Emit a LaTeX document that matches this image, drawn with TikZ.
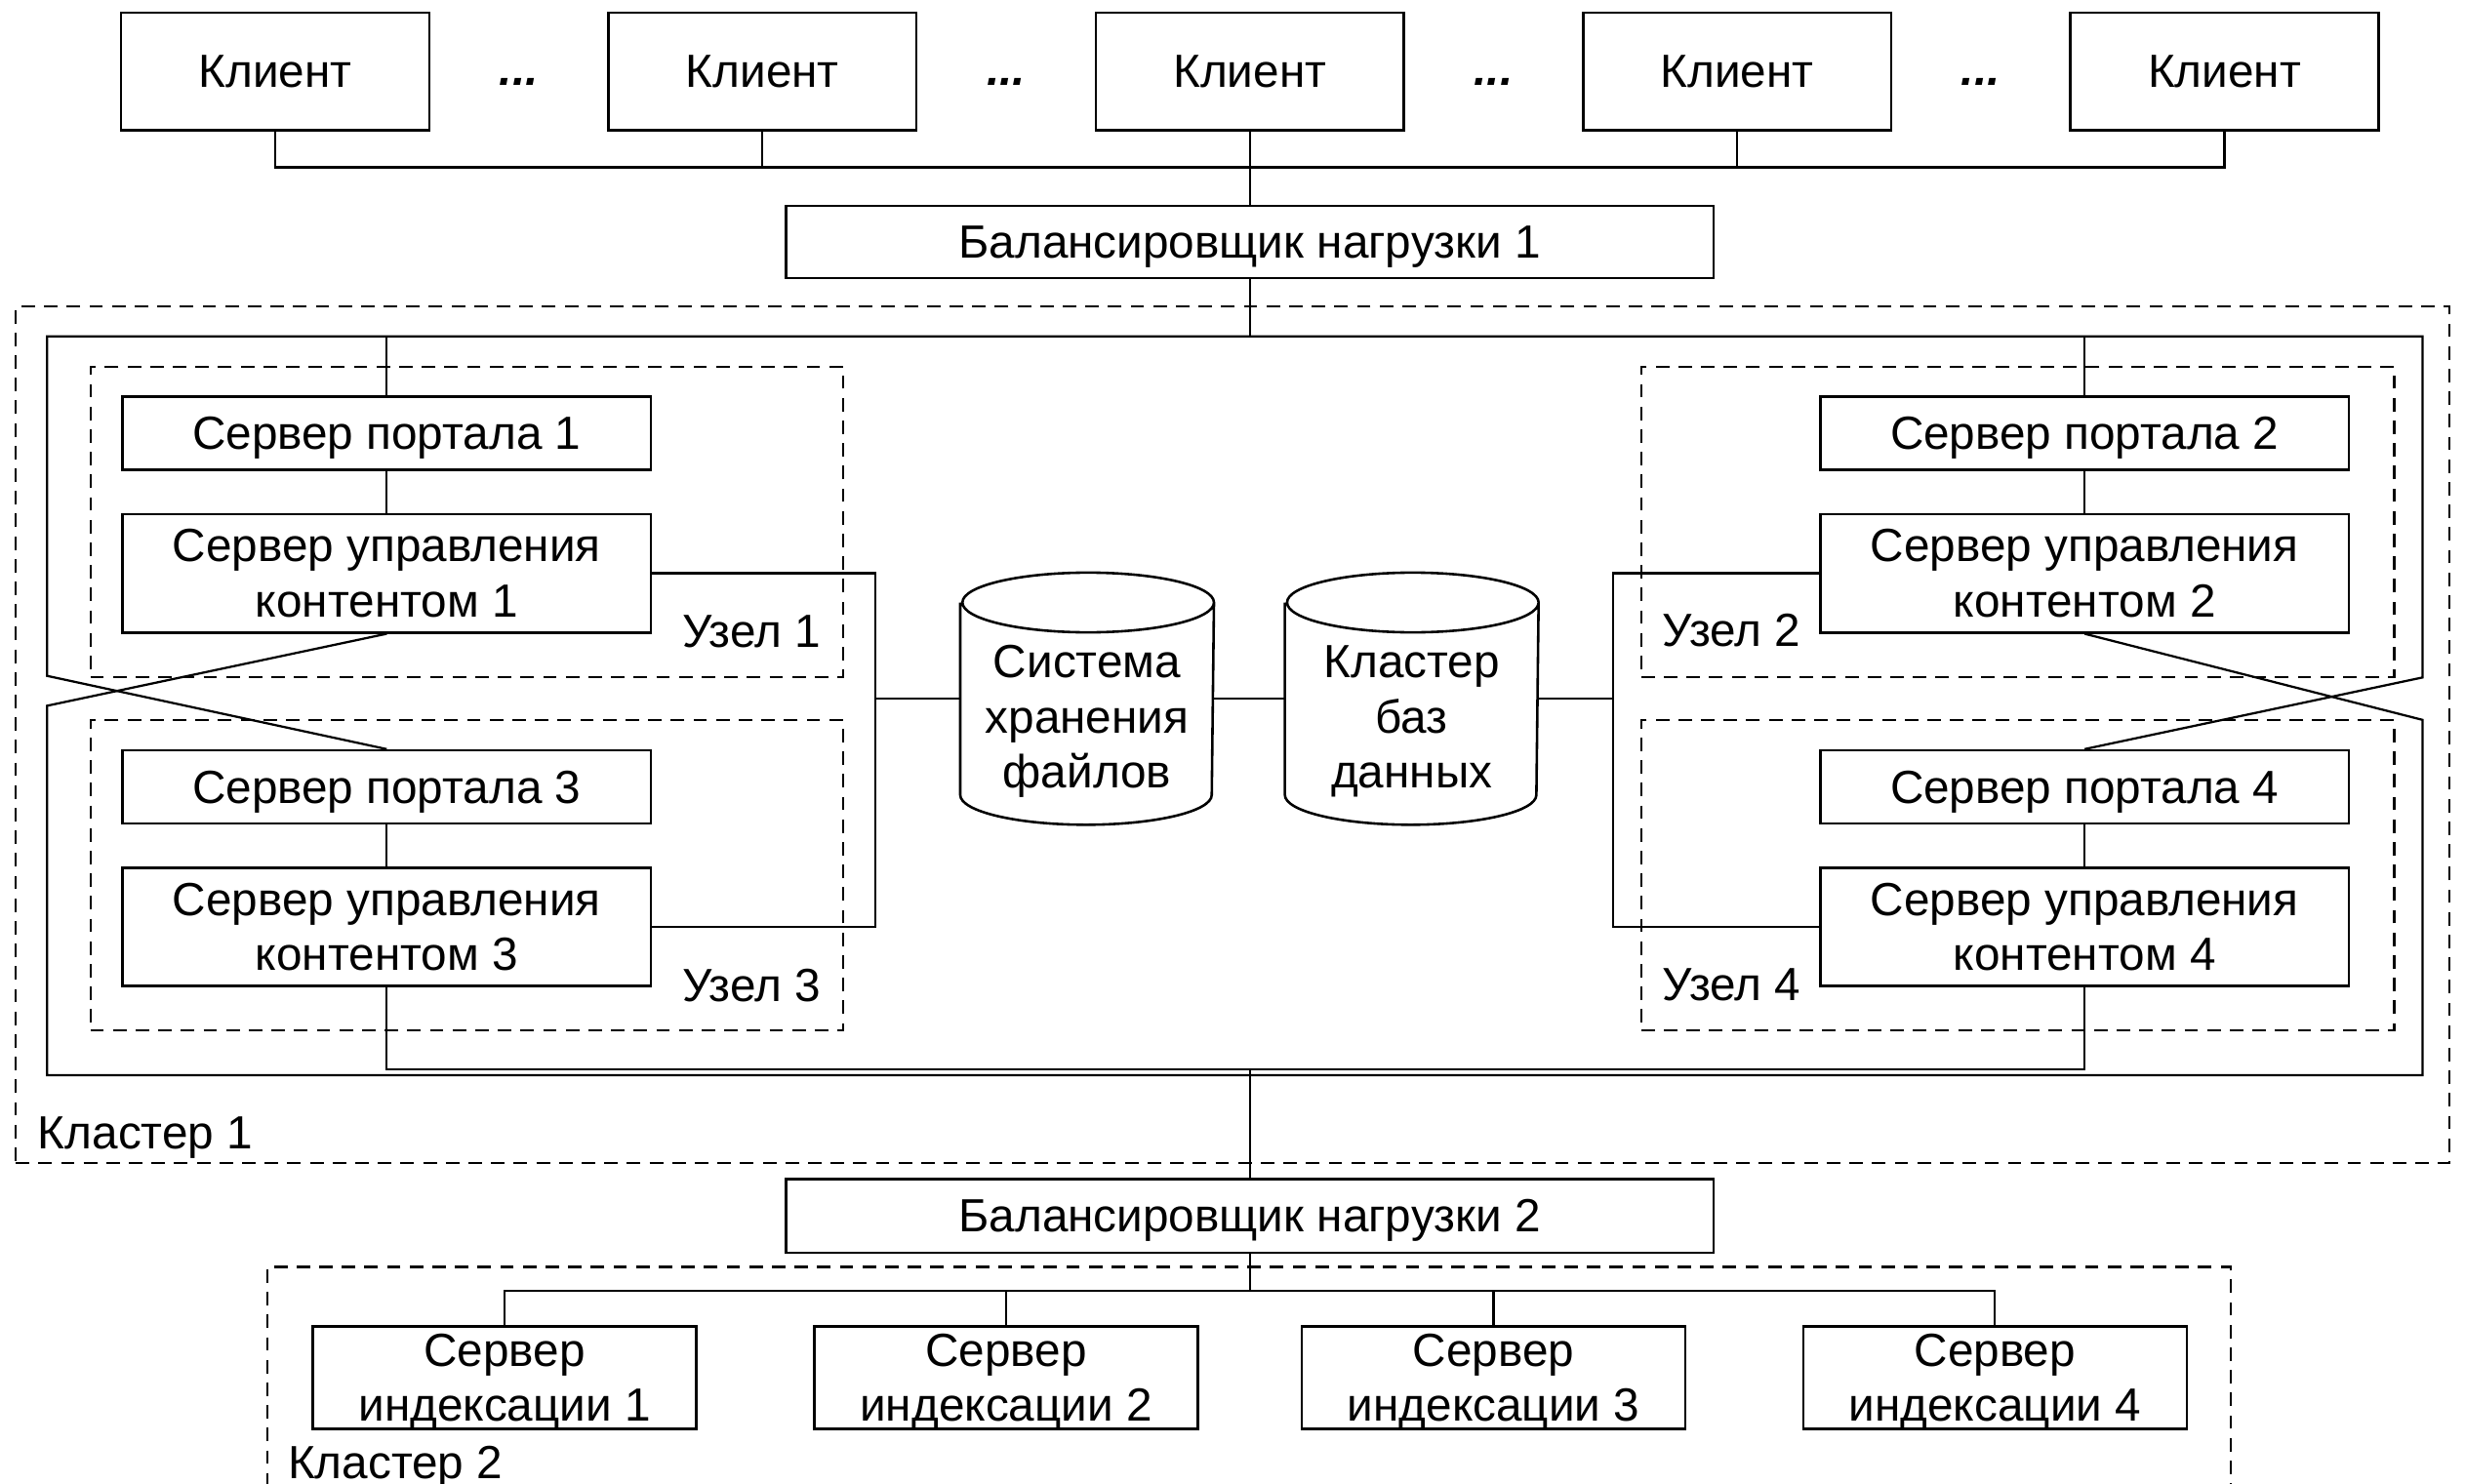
\documentclass[tikz,border=0pt]{standalone}
\usepackage{fontspec}
\setmainfont{Liberation Sans}
\usetikzlibrary{calc}

\begin{document}
\begin{tikzpicture}[x=0.5pt, y=-0.5pt, line width=0.7pt,
    font=\fontsize{14.8}{17.5}\selectfont,
    box/.style={draw, line width=0.8pt, inner sep=0pt, align=center, text depth=0pt},
    srv/.style={box, minimum width=168pt},
    grp/.style={draw, dash pattern=on 4.3pt off 2.9pt, inner sep=0pt},
    store/.style={minimum width=80pt, minimum height=79.5pt, inner sep=0pt},
    tag/.style={inner sep=0pt}]
    \useasboundingbox (0,0) rectangle (1568,944);

    \foreach \i/\x in {1/175,2/485,3/795,4/1105,5/1415}
        \node[box, minimum width=98pt, minimum height=37.5pt] (k\i) at (\x,45.5) {Клиент};
    \foreach \i/\x in {1/330,2/640,3/950,4/1260}
        \node[anchor=base] (d\i) at (\x,54) {\bfseries\itshape ...};

    \node[box, minimum width=295pt, minimum height=23pt] (lb1) at (795,154) {Балансировщик нагрузки 1};
    \coordinate (kb) at (795,106.5);
    \draw (k1.south) |- (kb) -| (k5.south);
    \foreach \i in {2,3,4} \draw (k\i.south) -- (k\i.south |- kb);
    \draw (kb) -- (lb1.north);

    \node[grp, minimum width=774pt, minimum height=272.5pt] (cl1) at (784,467.5) {};
    \node[tag, anchor=base west] (cl1t) at (23.5,731) {Кластер 1};

    \foreach \n/\x/\y in {1/297/332, 2/1283.5/332, 3/297/557, 4/1283.5/557}
        \node[grp, minimum width=239.5pt, minimum height=98.7pt] (n\n) at (\x,\y) {};

    \foreach \n/\x/\y in {1/246/0, 2/1326/0, 3/246/225, 4/1326/225} {
        \node[srv, minimum height=23.3pt] (p\n) at (\x,275.7+\y) {Сервер портала \n};
        \node[srv, minimum height=37.7pt] (m\n) at (\x,364.7+\y) {Сервер управления\\контентом \n};
        \draw (p\n) -- (m\n);
    }

    \node[tag, anchor=base east] (u1) at (522.5,412) {Узел 1};
    \node[tag, anchor=base east] (u3) at (522.5,637) {Узел 3};
    \node[tag, anchor=base west] (u2) at (1057,411.5) {Узел 2};
    \node[tag, anchor=base west] (u4) at (1057,636.5) {Узел 4};

    \node[store] (fs) at (691.5,444.5) {};
    \node[store] (db) at (898,444.5) {};
    \node[align=center] (fst) at (691.5,459) {Система\\хранения\\файлов};
    \node[align=center] (dbt) at (898,459) {Кластер\\баз\\данных};
    \foreach \n in {fs,db}
        \draw[line width=0.8pt] ($(\n.north west)+(0,19)$) -- ($(\n.south west)+(0,-19)$)
            arc[start angle=180, end angle=360, x radius=40pt, y radius=9.5pt]
            -- ($(\n.north east)+(0,19)$) arc[start angle=0, end angle=360, x radius=40pt, y radius=9.5pt];

    \coordinate (sl) at (557,444.5);
    \coordinate (sr) at (1026,444.5);
    \draw (m1.east) -| (sl) |- (m3.east);
    \draw (m2.west) -| (sr) |- (m4.west);
    \draw (sl) -- (fs.west);
    \draw (fs.east) -- (db.west);
    \draw (db.east) -- (sr);

    \coordinate (tl) at (30,214);
    \coordinate (tr) at (1541,214);
    \coordinate (xl) at (30,430);
    \coordinate (xr) at (1541,431);
    \draw (p3.north) -- (xl) -- (tl) -- (tr) -- (xr) -- (p4.north);
    \foreach \n in {1,2} \draw (p\n.north) -- (p\n.north |- tl);
    \draw (lb1.south) -- (lb1.south |- tl);

    \coordinate (yl) at (30,449);
    \coordinate (yr) at (1541,458);
    \coordinate (bl) at (30,684);
    \coordinate (br) at (1541,684);
    \draw (m1.south) -- (yl) -- (bl) -- (br) -- (yr) -- (m2.south);
    \coordinate (ib) at (795,680.5);
    \draw (m3.south) |- (ib) -| (m4.south);

    \node[box, minimum width=295pt, minimum height=23.5pt] (lb2) at (795,773.5) {Балансировщик нагрузки 2};
    \draw (ib) -- (lb2.north);

    \node[grp, minimum width=624.5pt, minimum height=75pt] (cl2) at (794.5,881) {};
    \node[tag, anchor=base west] (cl2t) at (182.5,940.5) {Кластер 2};

    \foreach \i/\x in {1/321,2/640,3/950,4/1269}
        \node[box, minimum width=122pt, minimum height=32.5pt] (s\i) at (\x,876.5) {Сервер\\индексации \i};
    \coordinate (sb) at (795,821);
    \draw (s1.north) |- (sb) -| (s4.north);
    \foreach \i in {2,3} \draw (s\i.north) -- (s\i.north |- sb);
    \draw (lb2.south) -- (sb);

\end{tikzpicture}
\end{document}
